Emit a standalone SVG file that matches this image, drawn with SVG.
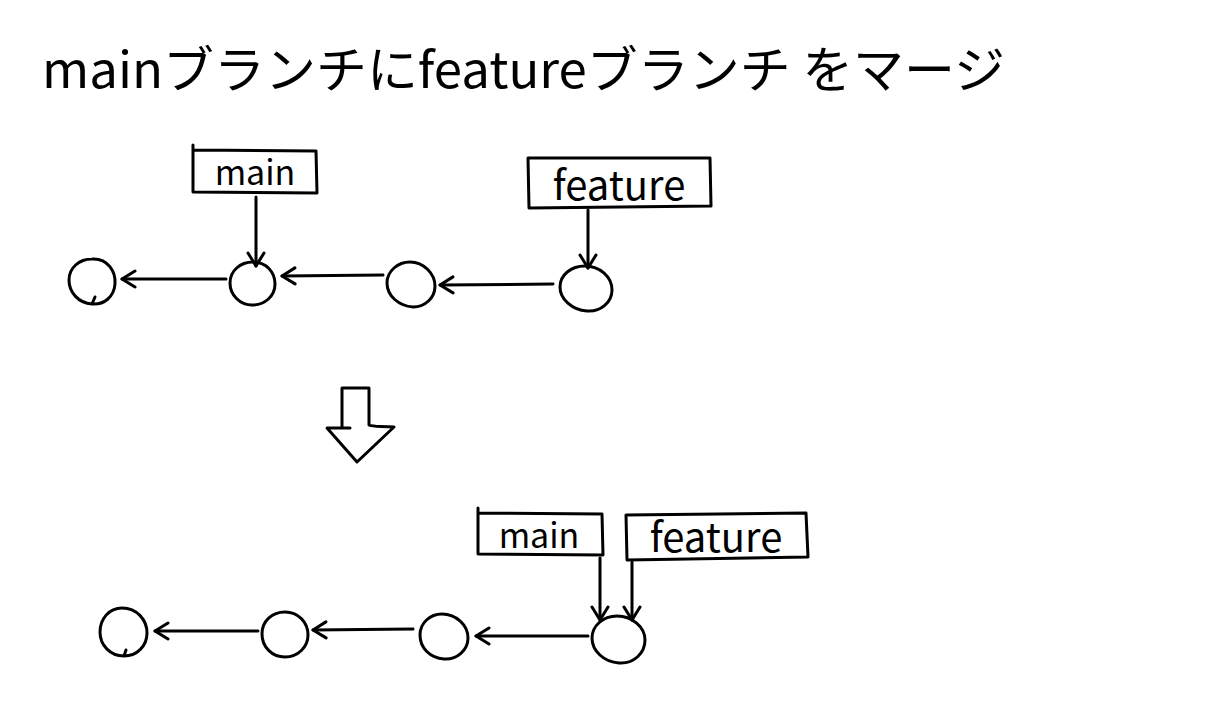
<svg xmlns="http://www.w3.org/2000/svg" width="1225" height="720" viewBox="0 0 1225 720">
<style>
.s{fill:none;stroke:#000;stroke-width:3;stroke-linecap:round;stroke-linejoin:round}
.t{font-family:"Noto Sans CJK JP","Liberation Sans",sans-serif;font-weight:400;fill:#000}
</style>
<defs>
<marker id="ah" viewBox="0 0 20 20" refX="17" refY="10" markerWidth="20" markerHeight="20" markerUnits="userSpaceOnUse" orient="auto">
<path d="M4 2 L17 10 L4 18" fill="none" stroke="#000" stroke-width="3" stroke-linecap="round" stroke-linejoin="round"/>
</marker>
</defs>
<rect width="1225" height="720" fill="#fff"/>
<g id="title">
<text class="t" x="42" y="88" font-size="50" textLength="963" lengthAdjust="spacingAndGlyphs">mainブランチにfeatureブランチ をマージ</text>
</g>
<g id="top-c1"><path class="s" d="M92 259 C108 258 116 272 115 284 C114 297 104 305 92 304 C78 303 69 292 69 280 C69 268 79 259 92 259 Z M92 304 L95 297"/></g>
<g id="top-c2"><path class="s" d="M253 262 C266 262 275 272 275 284 C275 296 265 305 252 305 C240 305 230 295 230 283 C230 271 240 262 253 262 Z"/></g>
<g id="top-c3"><path class="s" d="M410 262 C424 262 435 274 435 286 C435 298 425 307 413 307 C399 306 387 296 387 283 C387 271 398 262 410 262 Z"/></g>
<g id="top-c4"><path class="s" d="M585 266 C600 266 612 277 612 290 C612 302 601 312 587 311 C572 310 560 299 560 287 C560 275 571 266 585 266 Z"/></g>
<g id="top-main"><path class="s" d="M193 145 L193 192 L317 193 L316 151 L194 150"/><text class="t" x="255" y="185" font-size="34" text-anchor="middle">main</text></g>
<g id="top-feature"><path class="s" d="M528 158 L529 208 L711 206 L710 158 L528 158"/><text class="t" x="619" y="200" font-size="40" text-anchor="middle">feature</text></g>
<g id="bottom-c1"><path class="s" d="M122 608 C137 608 147 620 147 633 C147 646 137 656 124 656 C110 656 100 645 100 632 C100 619 109 608 122 608 Z M124 656 L126 650"/></g>
<g id="bottom-c2"><path class="s" d="M285 612 C298 612 308 622 308 635 C308 647 298 657 285 657 C272 657 262 647 262 634 C262 621 272 612 285 612 Z"/></g>
<g id="bottom-c3"><path class="s" d="M442 614 C456 614 468 625 468 638 C468 650 457 660 444 659 C430 658 420 648 420 635 C420 623 430 614 442 614 Z"/></g>
<g id="bottom-c4"><path class="s" d="M617 616 C632 616 645 627 645 640 C645 653 634 664 619 663 C604 662 592 651 592 638 C592 626 603 616 617 616 Z"/></g>
<g id="bottom-main"><path class="s" d="M478 508 L478 554 L603 555 L602 514 L479 513"/><text class="t" x="539" y="548" font-size="34" text-anchor="middle">main</text></g>
<g id="bottom-feature"><path class="s" d="M626 515 L627 560 L808 557 L806 513 L626 515"/><text class="t" x="716" y="552" font-size="40" text-anchor="middle">feature</text></g>
<g id="merge-arrow"><path class="s" d="M342 428 L342 388 L369 388 L369 425 C373 427 380 426 394 427 L357 462 L327 428 L350 428"/></g>
<g id="connectors">
<path class="s" d="M226 279 L122 279" marker-end="url(#ah)"/>
<path class="s" d="M383 275 L282 276" marker-end="url(#ah)"/>
<path class="s" d="M553 284 L440 285" marker-end="url(#ah)"/>
<path class="s" d="M256 197 L256 266" marker-end="url(#ah)"/>
<path class="s" d="M588 210 L588 268" marker-end="url(#ah)"/>
<path class="s" d="M258 631 L155 631" marker-end="url(#ah)"/>
<path class="s" d="M413 629 L313 630" marker-end="url(#ah)"/>
<path class="s" d="M588 636 L476 636" marker-end="url(#ah)"/>
<path class="s" d="M600 558 L600 620" marker-end="url(#ah)"/>
<path class="s" d="M632 562 L632 620" marker-end="url(#ah)"/>
</g>
</svg>
